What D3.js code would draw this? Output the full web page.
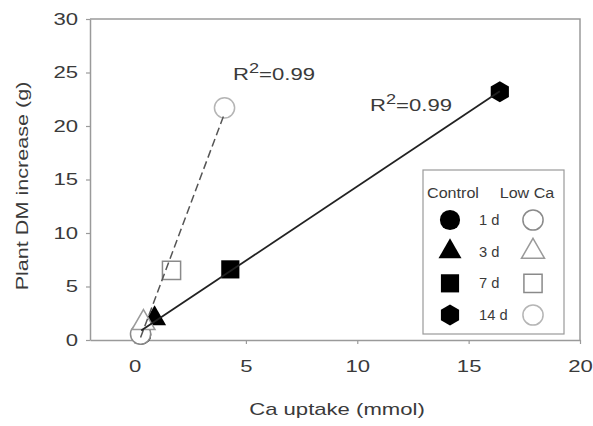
<!DOCTYPE html>
<html>
<head>
<meta charset="utf-8">
<script src="https://cdn.jsdelivr.net/npm/d3@7"></script>
<style>
  body { margin: 0; background: #fff; }
  text { font-family: "Liberation Sans", Arial, sans-serif; fill: #3a3a3a; }
</style>
</head>
<body>
<div id="chart"></div>
<script>
// data
var days = ["1 d", "3 d", "7 d", "14 d"];
var controlUptake = [0.3, 0.9, 4.3, 16.4];
var controlDM = [0.5, 2.0, 6.6, 23.2];
var lowCaUptake = [0.27, 0.4, 1.66, 4.04];
var lowCaDM = [0.55, 1.6, 6.5, 21.7];
var xTicks = [0, 5, 10, 15, 20];
var yTicks = [0, 5, 10, 15, 20, 25, 30];
var r2Labels = ["0.99", "0.99"];

var svgWidth = 593;
var svgHeight = 426;
var margin = { top: 19, right: 13, bottom: 86, left: 90 };

var svg = d3.select("#chart")
  .append("svg")
  .attr("width", svgWidth)
  .attr("height", svgHeight);

var x = d3.scaleLinear().domain([-2, 20]).range([margin.left, svgWidth - margin.right]);
var y = d3.scaleLinear().domain([0, 30]).range([svgHeight - margin.bottom, margin.top]);

// the glyphs in the reference are wider than Arial, so stretch texts along their run
function stretch(sel, k) {
  sel.each(function() {
    var w = this.getComputedTextLength();
    d3.select(this).attr("textLength", w * k).attr("lengthAdjust", "spacingAndGlyphs");
  });
}

function hexPath(r) {
  var pts = d3.range(6).map(function(i) {
    var a = Math.PI / 3 * i - Math.PI / 2;
    return [r * Math.cos(a), r * Math.sin(a)];
  });
  return "M" + pts.join("L") + "Z";
}

var shapes = [
  d3.symbol().type(d3.symbolCircle).size(320)(),
  d3.symbol().type(d3.symbolTriangle).size(230)(),
  d3.symbol().type(d3.symbolSquare).size(330)(),
  hexPath(10.5)
];
var openShapes = [
  d3.symbol().type(d3.symbolCircle).size(320)(),
  d3.symbol().type(d3.symbolTriangle).size(230)(),
  d3.symbol().type(d3.symbolSquare).size(330)(),
  d3.symbol().type(d3.symbolCircle).size(320)()
];
var openStroke = ["#8a8a8a", "#9a9a9a", "#8a8a8a", "#b5b5b5"];

// frame (top + right)
svg.append("path")
  .attr("d", "M" + x(-2) + "," + y(30) + "H" + x(20) + "V" + y(0))
  .attr("fill", "none")
  .attr("stroke", "#9a9a9a")
  .attr("stroke-width", 1.5);

// axes
var xAxis = svg.append("g")
  .attr("transform", "translate(0," + y(0) + ")")
  .call(d3.axisBottom(x).tickValues(xTicks).tickSize(4).tickSizeOuter(0).tickPadding(16));
var yAxis = svg.append("g")
  .attr("transform", "translate(" + x(-2) + ",0)")
  .call(d3.axisLeft(y).tickValues(yTicks).tickSize(4).tickSizeOuter(0).tickPadding(8));

[xAxis, yAxis].forEach(function(ax) {
  ax.select(".domain").attr("stroke", "#9a9a9a").attr("stroke-width", 1.5);
  ax.selectAll(".tick line").attr("stroke", "#9a9a9a").attr("stroke-width", 1.2);
  ax.selectAll(".tick text")
    .attr("font-size", 17)
    .attr("font-family", "Liberation Sans, Arial, sans-serif")
    .attr("fill", "#3a3a3a");
  stretch(ax.selectAll(".tick text"), 1.3);
});

// axis titles
svg.append("text")
  .attr("x", 337)
  .attr("y", 415)
  .attr("text-anchor", "middle")
  .attr("font-size", 17)
  .text("Ca uptake (mmol)")
  .call(stretch, 1.3);

svg.append("text")
  .attr("transform", "translate(28,186) rotate(-90)")
  .attr("text-anchor", "middle")
  .attr("font-size", 17)
  .text("Plant DM increase (g)")
  .call(stretch, 1.27);

// markers: control first, low Ca open markers over them
var control = days.map(function(d, i) { return { x: controlUptake[i], y: controlDM[i], i: i }; });
var lowCa = days.map(function(d, i) { return { x: lowCaUptake[i], y: lowCaDM[i], i: i }; });

svg.selectAll(".ctrl")
  .data(control)
  .enter()
  .append("path")
  .attr("class", "ctrl")
  .attr("transform", function(d) { return "translate(" + x(d.x) + "," + y(d.y) + ")"; })
  .attr("d", function(d) { return shapes[d.i]; })
  .attr("fill", "#000");

svg.selectAll(".low")
  .data(lowCa)
  .enter()
  .append("path")
  .attr("class", "low")
  .attr("transform", function(d) { return "translate(" + x(d.x) + "," + y(d.y) + ")"; })
  .attr("d", function(d) { return openShapes[d.i]; })
  .attr("fill", "#fff")
  .attr("stroke", function(d) { return openStroke[d.i]; })
  .attr("stroke-width", 1.5);

// least squares lines over the marker span
function fitLine(pts) {
  var mx = d3.mean(pts, d => d.x), my = d3.mean(pts, d => d.y);
  var sxy = d3.sum(pts, d => (d.x - mx) * (d.y - my));
  var sxx = d3.sum(pts, d => (d.x - mx) * (d.x - mx));
  var b = sxy / sxx, a = my - b * mx;
  var x0 = d3.min(pts, d => d.x), x1 = d3.max(pts, d => d.x);
  return [[x0, a + b * x0], [x1, a + b * x1]];
}

var line = d3.line().x(d => x(d[0])).y(d => y(d[1]));

svg.append("path")
  .attr("d", line(fitLine(lowCa)))
  .attr("fill", "none")
  .attr("stroke", "#555")
  .attr("stroke-width", 1.5)
  .attr("stroke-dasharray", "8,4");

svg.append("path")
  .attr("d", line(fitLine(control)))
  .attr("fill", "none")
  .attr("stroke", "#222")
  .attr("stroke-width", 1.8);

// R² labels
function r2(px, py, val) {
  var g = svg.append("g").attr("transform", "translate(" + px + "," + py + ") scale(1.3,1)");
  var t = g.append("text").attr("font-size", 17);
  t.append("tspan").text("R");
  t.append("tspan").attr("font-size", 14).attr("dy", -7).text("2");
  t.append("tspan").attr("dy", 7).text("=" + val);
}
r2(233, 80, r2Labels[0]);
r2(370, 111, r2Labels[1]);

// legend
var legend = svg.append("g");
legend.append("rect")
  .attr("x", 423).attr("y", 170)
  .attr("width", 141).attr("height", 164)
  .attr("fill", "#fff")
  .attr("stroke", "#9a9a9a")
  .attr("stroke-width", 1.2);

legend.append("text").attr("x", 453).attr("y", 198).attr("text-anchor", "middle")
  .attr("font-size", 14).text("Control").call(stretch, 1.15);
legend.append("text").attr("x", 527).attr("y", 198).attr("text-anchor", "middle")
  .attr("font-size", 14).text("Low Ca").call(stretch, 1.15);

var rowY = d3.scalePoint().domain(days).range([220, 315]);

days.forEach(function(d, i) {
  legend.append("path")
    .attr("transform", "translate(450," + rowY(d) + ")")
    .attr("d", shapes[i])
    .attr("fill", "#000");
  legend.append("text")
    .attr("x", 479)
    .attr("y", rowY(d) + 5)
    .attr("font-size", 14)
    .text(d)
    .call(stretch, 1.05);
  legend.append("path")
    .attr("transform", "translate(533," + rowY(d) + ")")
    .attr("d", openShapes[i])
    .attr("fill", "#fff")
    .attr("stroke", openStroke[i])
    .attr("stroke-width", 1.5);
});
</script>
</body>
</html>
